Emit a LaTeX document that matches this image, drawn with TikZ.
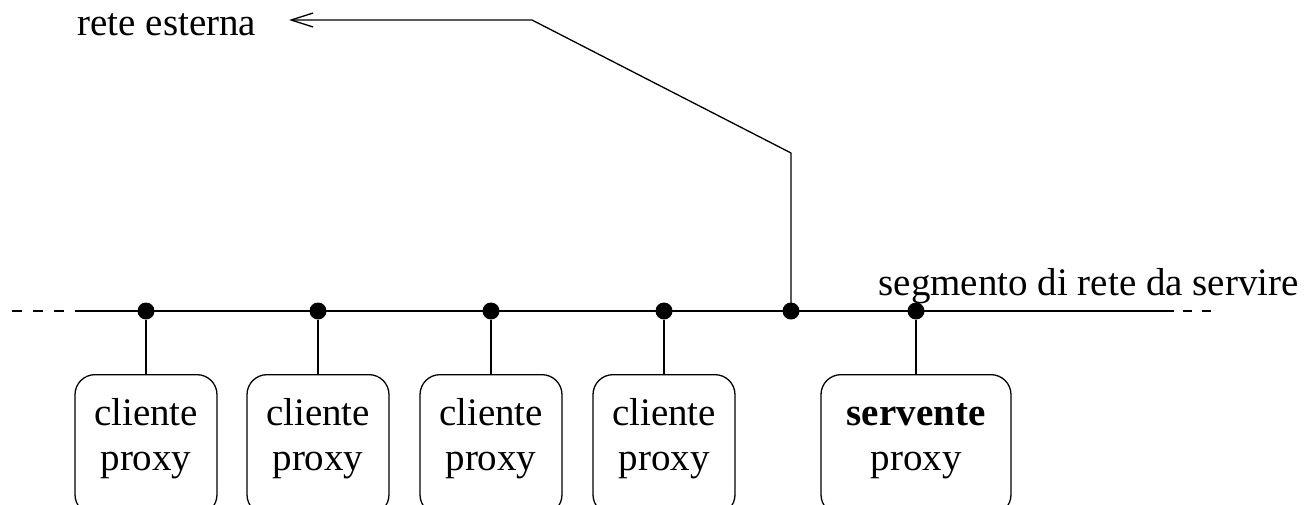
\documentclass[tikz,border=0pt]{standalone}
\usepackage{fontspec}
\setmainfont{Liberation Serif}
\usetikzlibrary{arrows.meta}
\begin{document}
\begin{tikzpicture}[x=1pt,y=-1pt,line width=1.3pt,
  hostbox/.style={draw,rounded corners=20pt,minimum width=#1,minimum height=140pt,anchor=north,inner sep=0pt},
  tap/.style={circle,fill=black,inner sep=0pt,minimum size=17pt},
  lbl/.style={font=\fontsize{39}{46}\selectfont,inner sep=0pt}]
\useasboundingbox (0,0) rectangle (1304,504);
\clip (0,0) rectangle (1304,504);
% network segment
\coordinate (l0) at (12,311);
\coordinate (l1) at (75,311);
\coordinate (r1) at (1174,311);
\coordinate (r0) at (1212,311);
\draw[dash pattern=on 10pt off 11pt] (l0) -- (l1);
\draw (l1) -- (r1);
\draw[dash pattern=on 9pt off 10pt] ([xshift=9pt]r1) -- (r0);
% taps on the segment
\foreach \n/\x in {t1/146,t2/318,t3/491,t4/664,tg/791,ts/916}
  \node[tap] (\n) at (\x,311) {};
% hosts
\foreach \n/\x in {c1/146,c2/318,c3/491,c4/664}{
  \node[hostbox=142pt] (\n) at (\x,374) {};
  \node[lbl,anchor=base] at (\x,425) {cliente};
  \node[lbl,anchor=base] at (\x,470) {proxy};
}
\node[hostbox=190pt] (sv) at (916,374) {};
\node[lbl,anchor=base] at (916,425) {\bfseries servente};
\node[lbl,anchor=base] at (916,470) {proxy};
\draw (t1) -- (c1.north);
\draw (t2) -- (c2.north);
\draw (t3) -- (c3.north);
\draw (t4) -- (c4.north);
\draw (ts) -- (sv.north);
% gateway towards the outside
\node[lbl,anchor=base west] (ext) at (77,35) {rete esterna};
\node[lbl,anchor=base west] (seg) at (878,295) {segmento di rete da servire};
\coordinate (g1) at (791,153);
\coordinate (g2) at (532,20);
\coordinate (tip) at (289,20);
\draw[-{Straight Barb[length=22pt,width=14pt,line width=1.3pt]}] (tg.center) -- (g1) -- (g2) -- (tip);
\end{tikzpicture}
\end{document}
